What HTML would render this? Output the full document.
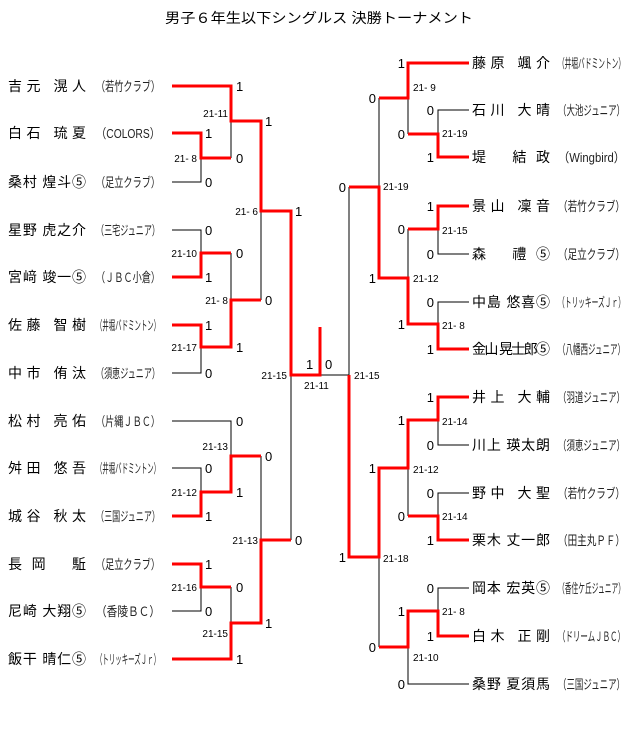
<!DOCTYPE html>
<html><head><meta charset="utf-8"><style>
html,body{margin:0;padding:0;background:#fff;}
svg{display:block;font-family:"Liberation Sans","Noto Sans CJK JP",sans-serif;}
.n{font-size:14px;fill:#000;}
.c{font-size:13px;fill:#222;}
.s{font-size:13px;fill:#000;}
.m{font-size:10px;fill:#000;}
</style></head><body>
<svg width="640" height="741" viewBox="0 0 640 741" xmlns="http://www.w3.org/2000/svg">
<text x="165" y="23" font-size="14" textLength="308" lengthAdjust="spacingAndGlyphs">男子６年生以下シングルス 決勝トーナメント</text>
<g fill="none" stroke="#000" stroke-width="1" shape-rendering="crispEdges">
<path d="M172 182H201V158M231 121V158M172 230H201V253M231 253V300M201 347V373H172M261 211V300M172 421H231V456M172 468H201V492M231 587V623M172 611H201V587M261 456V540M291 375V540"/>
<path d="M319 375H349V187M408 98V134M469 110H438V134M469 254H438V229M379 98V187M408 229V278M469 302H438V324M469 445H438V420M469 493H438V516M408 468V516M379 557V647M469 588H438V611M408 647V684H469"/>
</g>
<g fill="none" stroke="#f00" stroke-width="3" stroke-linejoin="miter" stroke-linecap="butt" shape-rendering="crispEdges">
<path d="M172 86H231V121H261V211H291V375H320V327"/>
<path d="M172 133H201V158H231"/>
<path d="M172 277H201V253H231"/>
<path d="M172 325H201V347H231V300H261"/>
<path d="M172 516H201V492H231V456H261"/>
<path d="M172 564H201V587H231"/>
<path d="M172 659H231V623H261V540H291"/>
<path d="M469 63H408V98H379"/>
<path d="M469 157H438V134H408"/>
<path d="M349 187H379V278H408V324H438V349H469"/>
<path d="M469 206H438V229H408"/>
<path d="M349 375V557H379V468H408V420H438V397H469"/>
<path d="M469 540H438V516H408"/>
<path d="M469 636H438V611H408V647H379"/>
</g>
<g class="n">
<text x="8" y="91" textLength="78" lengthAdjust="spacing">吉元 滉人</text>
<text x="8" y="138" textLength="78" lengthAdjust="spacing">白石 琉夏</text>
<text x="8" y="187" textLength="78" lengthAdjust="spacing">桑村 煌斗⑤</text>
<text x="8" y="235" textLength="78" lengthAdjust="spacing">星野 虎之介</text>
<text x="8" y="282" textLength="78" lengthAdjust="spacing">宮﨑 竣一⑤</text>
<text x="8" y="330" textLength="78" lengthAdjust="spacing">佐藤 智樹</text>
<text x="8" y="378" textLength="78" lengthAdjust="spacing">中市 侑汰</text>
<text x="8" y="426" textLength="78" lengthAdjust="spacing">松村 亮佑</text>
<text x="8" y="473" textLength="78" lengthAdjust="spacing">舛田 悠吾</text>
<text x="8" y="521" textLength="78" lengthAdjust="spacing">城谷 秋太</text>
<text x="8" y="569" textLength="78" lengthAdjust="spacing">長 岡 　駈</text>
<text x="8" y="616" textLength="78" lengthAdjust="spacing">尼崎 大翔⑤</text>
<text x="8" y="664" textLength="78" lengthAdjust="spacing">飯干 晴仁⑤</text>
<text x="472" y="68" textLength="78" lengthAdjust="spacing">藤原 颯介</text>
<text x="472" y="115" textLength="78" lengthAdjust="spacing">石川 大晴</text>
<text x="472" y="162" textLength="78" lengthAdjust="spacing">堤　 結 政</text>
<text x="472" y="211" textLength="78" lengthAdjust="spacing">景山 凜音</text>
<text x="472" y="259" textLength="78" lengthAdjust="spacing">森　 禮 ⑤</text>
<text x="472" y="307" textLength="78" lengthAdjust="spacing">中島 悠喜⑤</text>
<text x="472" y="354" textLength="78" lengthAdjust="spacing">金山 晃士郎⑤</text>
<text x="472" y="402" textLength="78" lengthAdjust="spacing">井上 大輔</text>
<text x="472" y="450" textLength="78" lengthAdjust="spacing">川上 瑛太朗</text>
<text x="472" y="498" textLength="78" lengthAdjust="spacing">野中 大聖</text>
<text x="472" y="545" textLength="78" lengthAdjust="spacing">栗木 丈一郎</text>
<text x="472" y="593" textLength="78" lengthAdjust="spacing">岡本 宏英⑤</text>
<text x="472" y="641" textLength="78" lengthAdjust="spacing">白木 正剛</text>
<text x="472" y="689" textLength="78" lengthAdjust="spacing">桑野 夏須馬</text>
</g>
<g class="c">
<text x="96" y="91" textLength="64" lengthAdjust="spacingAndGlyphs">（若竹クラブ）</text>
<text x="96" y="138" textLength="64" lengthAdjust="spacingAndGlyphs">（COLORS）</text>
<text x="96" y="187" textLength="64" lengthAdjust="spacingAndGlyphs">（足立クラブ）</text>
<text x="96" y="235" textLength="64" lengthAdjust="spacingAndGlyphs">（三宅ジュニア）</text>
<text x="96" y="282" textLength="64" lengthAdjust="spacingAndGlyphs">（ＪＢＣ小倉）</text>
<text x="96" y="330" textLength="64" lengthAdjust="spacingAndGlyphs">（井堀バドミントン）</text>
<text x="96" y="378" textLength="64" lengthAdjust="spacingAndGlyphs">（須恵ジュニア）</text>
<text x="96" y="426" textLength="64" lengthAdjust="spacingAndGlyphs">（片縄ＪＢＣ）</text>
<text x="96" y="473" textLength="64" lengthAdjust="spacingAndGlyphs">（井堀バドミントン）</text>
<text x="96" y="521" textLength="64" lengthAdjust="spacingAndGlyphs">（三国ジュニア）</text>
<text x="96" y="569" textLength="64" lengthAdjust="spacingAndGlyphs">（足立クラブ）</text>
<text x="96" y="616" textLength="64" lengthAdjust="spacingAndGlyphs">（香陵ＢＣ）</text>
<text x="96" y="664" textLength="64" lengthAdjust="spacingAndGlyphs">（トリッキーズＪｒ）</text>
<text x="558" y="68" textLength="67" lengthAdjust="spacingAndGlyphs">（井堀バドミントン）</text>
<text x="558" y="115" textLength="67" lengthAdjust="spacingAndGlyphs">（大池ジュニア）</text>
<text x="558" y="162" textLength="67" lengthAdjust="spacingAndGlyphs">（Wingbird）</text>
<text x="558" y="211" textLength="67" lengthAdjust="spacingAndGlyphs">（若竹クラブ）</text>
<text x="558" y="259" textLength="67" lengthAdjust="spacingAndGlyphs">（足立クラブ）</text>
<text x="558" y="307" textLength="67" lengthAdjust="spacingAndGlyphs">（トリッキーズＪｒ）</text>
<text x="558" y="354" textLength="67" lengthAdjust="spacingAndGlyphs">（八幡西ジュニア）</text>
<text x="558" y="402" textLength="67" lengthAdjust="spacingAndGlyphs">（羽道ジュニア）</text>
<text x="558" y="450" textLength="67" lengthAdjust="spacingAndGlyphs">（須恵ジュニア）</text>
<text x="558" y="498" textLength="67" lengthAdjust="spacingAndGlyphs">（若竹クラブ）</text>
<text x="558" y="545" textLength="67" lengthAdjust="spacingAndGlyphs">（田主丸ＰＦ）</text>
<text x="558" y="593" textLength="67" lengthAdjust="spacingAndGlyphs">（香住ケ丘ジュニア）</text>
<text x="558" y="641" textLength="67" lengthAdjust="spacingAndGlyphs">（ドリームＪＢＣ）</text>
<text x="558" y="689" textLength="67" lengthAdjust="spacingAndGlyphs">（三国ジュニア）</text>
</g>
<g class="s">
<text x="236" y="91">1</text><text x="205" y="138">1</text><text x="236" y="163">0</text><text x="205" y="187">0</text>
<text x="265" y="126">1</text><text x="295" y="216">1</text><text x="205" y="235">0</text><text x="236" y="258">0</text>
<text x="205" y="282">1</text><text x="265" y="305">0</text><text x="205" y="330">1</text><text x="236" y="352">1</text>
<text x="205" y="378">0</text><text x="236" y="426">0</text><text x="265" y="461">0</text><text x="205" y="473">0</text>
<text x="236" y="497">1</text><text x="205" y="521">1</text><text x="295" y="545">0</text><text x="205" y="569">1</text>
<text x="236" y="592">0</text><text x="205" y="616">0</text><text x="265" y="628">1</text><text x="236" y="664">1</text>
<text x="306" y="369">1</text><text x="325" y="369">0</text>
</g>
<g class="s" text-anchor="end">
<text x="405" y="68">1</text><text x="376" y="103">0</text><text x="434" y="115">0</text><text x="405" y="139">0</text>
<text x="434" y="162">1</text><text x="346" y="192">0</text><text x="434" y="211">1</text><text x="405" y="234">0</text>
<text x="434" y="259">0</text><text x="376" y="283">1</text><text x="434" y="307">0</text><text x="405" y="329">1</text>
<text x="434" y="354">1</text><text x="434" y="402">1</text><text x="405" y="425">1</text><text x="434" y="450">0</text>
<text x="376" y="473">1</text><text x="434" y="498">0</text><text x="405" y="521">0</text><text x="434" y="545">1</text>
<text x="346" y="562">1</text><text x="434" y="593">0</text><text x="405" y="616">1</text><text x="434" y="641">1</text>
<text x="376" y="652">0</text><text x="405" y="689">0</text>
</g>
<g class="m" text-anchor="end" xml:space="preserve">
<text x="228" y="117">21-11</text><text x="197" y="162">21- 8</text><text x="258" y="215">21- 6</text>
<text x="197" y="257">21-10</text><text x="228" y="304">21- 8</text><text x="197" y="351">21-17</text>
<text x="287" y="379">21-15</text><text x="228" y="450">21-13</text><text x="197" y="496">21-12</text>
<text x="258" y="544">21-13</text><text x="197" y="591">21-16</text><text x="228" y="637">21-15</text>
</g>
<g class="m" xml:space="preserve">
<text x="304" y="389">21-11</text>
<text x="413" y="91">21- 9</text><text x="442" y="137">21-19</text><text x="383" y="190">21-19</text>
<text x="442" y="234">21-15</text><text x="413" y="282">21-12</text><text x="442" y="329">21- 8</text>
<text x="354" y="379">21-15</text><text x="442" y="425">21-14</text><text x="413" y="473">21-12</text>
<text x="442" y="520">21-14</text><text x="383" y="562">21-18</text><text x="442" y="615">21- 8</text>
<text x="413" y="661">21-10</text>
</g>
</svg>
</body></html>
